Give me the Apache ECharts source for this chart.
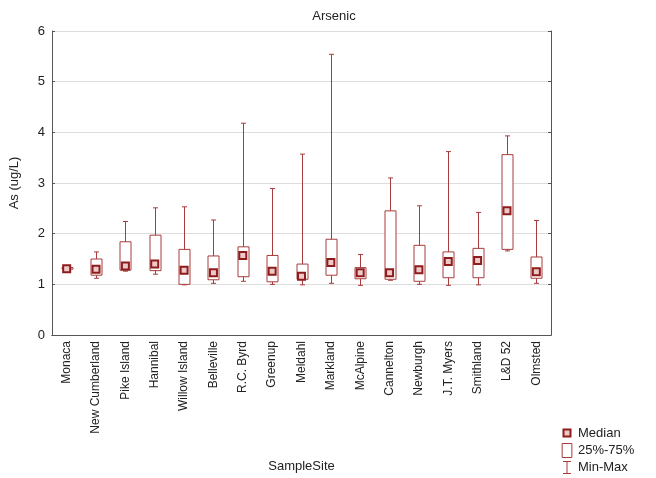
<!DOCTYPE html>
<html>
<head>
<meta charset="utf-8">
<script src="https://cdn.jsdelivr.net/npm/echarts@6/dist/echarts.min.js"></script>
<style>html,body{margin:0;padding:0;background:#fff}#c{width:656px;height:478px}</style>
</head>
<body>
<div id="c"></div>
<script>
const categories = ['Monaca','New Cumberland','Pike Island','Hannibal','Willow Island','Belleville','R.C. Byrd','Greenup','Meldahl','Markland','McAlpine','Cannelton','Newburgh','J.T. Myers','Smithland','L&D 52','Olmsted'];
const minVals = [1.30,1.12,1.26,1.20,0.99,1.02,1.06,1.00,0.99,1.02,0.98,1.08,1.00,0.98,0.99,1.66,1.02];
const q1Vals  = [1.30,1.18,1.28,1.27,1.00,1.09,1.15,1.05,1.10,1.18,1.11,1.10,1.06,1.13,1.13,1.69,1.12];
const medVals = [1.31,1.30,1.36,1.40,1.28,1.23,1.57,1.26,1.16,1.43,1.23,1.23,1.29,1.45,1.47,2.45,1.25];
const q3Vals  = [1.33,1.50,1.84,1.97,1.69,1.56,1.74,1.57,1.40,1.89,1.33,2.45,1.77,1.64,1.71,3.56,1.54];
const maxVals = [1.33,1.64,2.24,2.51,2.53,2.27,4.18,2.89,3.57,5.54,1.59,3.10,2.55,3.62,2.42,3.93,2.26];
const yTicks = [0,1,2,3,4,5,6];

const RED = '#a83c3c';
const DARK = '#8e1c1c';
const rows = categories.map((c,i)=>[i,minVals[i],q1Vals[i],medVals[i],q3Vals[i],maxVals[i]]);

const chart = echarts.init(document.getElementById('c'));
const font = 'Liberation Sans, Arial, sans-serif';
chart.setOption({
  backgroundColor:'#fff',
  animation:false,
  textStyle:{fontFamily:font},
  title:{text:'Arsenic',left:329,top:5,textAlign:'center',textStyle:{fontSize:13,fontWeight:'normal',color:'#222',fontFamily:font}},
  grid:{left:51,right:105,top:31,bottom:142},
  legend:{
    orient:'vertical',left:561,top:425,padding:0,itemGap:2,itemWidth:10,itemHeight:14,height:60,
    textStyle:{fontSize:13,color:'#222',fontFamily:font,padding:[0,0,0,1]},
    data:[
      {name:'Median',icon:'path://M0,0 L0,0 M1.5,3.5 L8.5,3.5 L8.5,10.5 L1.5,10.5 Z M10,14 L10,14',itemStyle:{color:'#eccaca',borderColor:DARK,borderWidth:2}},
      {name:'25%-75%',icon:'path://M0.5,0.5 L9.5,0.5 L9.5,13.5 L0.5,13.5 Z',itemStyle:{color:'#fff',borderColor:RED,borderWidth:1}},
      {name:'Min-Max',icon:'path://M1,1 L9,1 L9,2 L5.5,2 L5.5,13 L9,13 L9,14 L1,14 L1,13 L4.5,13 L4.5,2 L1,2 Z M0,0 L0,0 M10,14 L10,14',itemStyle:{color:RED}}
    ]
  },
  xAxis:[{
    type:'category',data:categories,position:'bottom',
    name:'SampleSite',nameLocation:'middle',nameGap:125,
    nameTextStyle:{fontSize:13,color:'#222',fontFamily:font},
    axisLine:{lineStyle:{color:'#555',width:1}},
    axisTick:{inside:true,length:3,alignWithLabel:true,lineStyle:{color:'#555'}},
    axisLabel:{rotate:90,fontSize:12,color:'#222',margin:6,interval:0,fontFamily:font},
    splitLine:{show:false}
  },{
    type:'category',data:categories,position:'top',
    axisLine:{lineStyle:{color:'#555',width:1}},
    axisTick:{inside:true,length:3,alignWithLabel:true,lineStyle:{color:'#555'}},
    axisLabel:{show:false}
  }],
  yAxis:[{
    type:'value',min:0,max:6,interval:1,position:'left',
    name:'As (ug/L)',nameLocation:'middle',nameGap:31,
    nameTextStyle:{fontSize:13,color:'#222',fontFamily:font},
    axisLine:{show:true,lineStyle:{color:'#555',width:1}},
    axisTick:{show:true,inside:true,length:3,lineStyle:{color:'#555'}},
    axisLabel:{fontSize:13,color:'#222',margin:7,fontFamily:font,formatter:v=>yTicks.includes(v)?String(v):''},
    splitLine:{show:true,lineStyle:{color:'#dddddd',width:1}}
  },{
    type:'value',min:0,max:6,interval:1,position:'right',
    axisLine:{show:true,lineStyle:{color:'#555',width:1}},
    axisTick:{show:true,inside:true,length:3,lineStyle:{color:'#555'}},
    axisLabel:{show:false},splitLine:{show:false}
  }],
  series:[{
    name:'Min-Max',type:'custom',data:rows,encode:{x:0,y:[1,5]},z:2,
    itemStyle:{color:RED},
    renderItem:function(params,api){
      const i=api.value(0);
      const p1=api.coord([i,api.value(1)]);
      const p2=api.coord([i,api.value(5)]);
      const x=Math.round(p1[0])+0.5;
      const st={stroke:RED,lineWidth:1};
      return {type:'group',children:[
        {type:'line',shape:{x1:x,y1:p1[1],x2:x,y2:p2[1]},style:st},
        {type:'line',shape:{x1:x-2.5,y1:p1[1],x2:x+2.5,y2:p1[1]},style:st},
        {type:'line',shape:{x1:x-2.5,y1:p2[1],x2:x+2.5,y2:p2[1]},style:st}
      ]};
    }
  },{
    name:'25%-75%',type:'custom',data:rows,encode:{x:0,y:[2,4]},z:3,
    itemStyle:{color:'#fff',borderColor:RED},
    renderItem:function(params,api){
      const i=api.value(0);
      const a=api.coord([i,api.value(2)]);
      const b=api.coord([i,api.value(4)]);
      const x=Math.round(a[0])+0.5;
      const w=11;
      return {type:'rect',shape:{x:x-w/2,y:b[1],width:w,height:Math.max(a[1]-b[1],0.5)},style:{fill:'#fff',stroke:RED,lineWidth:1}};
    }
  },{
    name:'Median',type:'scatter',data:categories.map((c,i)=>[i,medVals[i]]),z:4,
    symbol:'rect',symbolSize:7,
    itemStyle:{color:'#eccaca',borderColor:DARK,borderWidth:2,opacity:1}
  }]
});
</script>
</body>
</html>
